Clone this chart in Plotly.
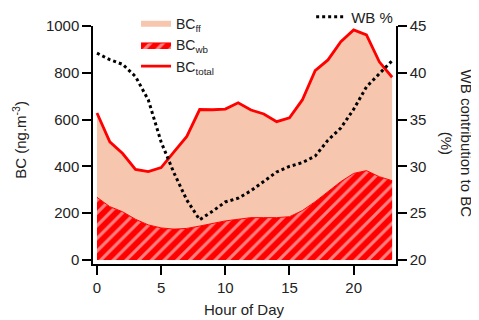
import plotly.graph_objects as go

hours = list(range(24))
bc_total = [628, 505, 455, 387, 378, 395, 462, 528, 643, 642, 645, 672, 641, 624, 591, 608,
            684, 809, 855, 933, 983, 962, 847, 781]
bc_wb = [268, 228, 206, 174, 150, 137, 132, 135, 145, 157, 167, 174, 181, 181, 181, 185,
         211, 249, 292, 335, 370, 382, 356, 339]
wb_pct = [42.1, 41.4, 40.9, 39.6, 37.1, 32.6, 29.3, 26.4, 24.3, 25.2, 26.2, 26.6, 27.4, 28.4,
          29.4, 30.0, 30.4, 31.1, 32.8, 34.1, 36.1, 38.5, 39.9, 41.3]
x_ticks = [0, 5, 10, 15, 20]
y_ticks = [0, 200, 400, 600, 800, 1000]
y2_ticks = [20, 25, 30, 35, 40, 45]

RED = "#ff0000"
FF = "#f7c6ae"
FONT = "Liberation Sans"

fig = go.Figure()

fig.add_trace(go.Scatter(
    x=hours, y=bc_wb, name="BC<sub>wb</sub>", mode="lines",
    line=dict(color=RED, width=1), fill="tozeroy", fillcolor=RED,
    fillpattern=dict(shape="/", fgcolor="white", bgcolor=RED, size=9, solidity=0.35),
    legendrank=2, legend="legend"))

fig.add_trace(go.Scatter(
    x=hours, y=bc_total, name="BC<sub>ff</sub>", mode="none",
    fill="tonexty", fillcolor=FF, legendrank=1, legend="legend"))

fig.add_trace(go.Scatter(
    x=hours, y=bc_total, name="BC<sub>total</sub>", mode="lines",
    line=dict(color=RED, width=2.8), legendrank=3, legend="legend"))

fig.add_trace(go.Scatter(
    x=hours, y=wb_pct, name="WB %", mode="lines", yaxis="y2",
    line=dict(color="black", width=3, dash="3px,3px"), legend="legend2"))

axis_common = dict(showline=True, linecolor="black", linewidth=1.5, ticks="outside",
                   ticklen=9, tickwidth=1.5, tickcolor="black", showgrid=False,
                   zeroline=False, tickfont=dict(size=15, color="#222", family=FONT))

fig.update_layout(
    width=471, height=312,
    margin=dict(l=85, r=83, t=18, b=56, autoexpand=False),
    paper_bgcolor="white", plot_bgcolor="white",
    font=dict(family=FONT, size=15, color="#222"),
    xaxis=dict(range=[-0.31, 23.3], tickvals=x_ticks, **axis_common),
    yaxis=dict(range=[-17.1, 1000], tickvals=y_ticks, **axis_common),
    yaxis2=dict(range=[19.57, 45], tickvals=y2_ticks, overlaying="y", side="right",
                **axis_common),
    legend=dict(x=0.142, y=1.075, xanchor="left", yanchor="top", bgcolor="rgba(0,0,0,0)",
                font=dict(size=14, family=FONT, color="#222"), tracegroupgap=0,
                traceorder="normal"),
    legend2=dict(x=0.72, y=1.107, xanchor="left", yanchor="top", bgcolor="rgba(0,0,0,0)",
                 font=dict(size=15, family=FONT, color="#222")),
    annotations=[
        dict(text="BC (ng.m<sup>-3</sup>)", xref="paper", yref="paper", x=-0.245, y=0.521,
             xanchor="center", yanchor="middle", textangle=-90, showarrow=False,
             font=dict(size=15, family=FONT, color="#222")),
        dict(text="Hour of Day", xref="paper", yref="paper", x=0.5, y=-0.193,
             xanchor="center", yanchor="middle", showarrow=False,
             font=dict(size=15, family=FONT, color="#222")),
        dict(text="WB contribution to BC<br>(%)", xref="paper", yref="paper", x=1.198,
             y=0.506, xanchor="center", yanchor="middle", textangle=90, showarrow=False,
             font=dict(size=15, family=FONT, color="#222")),
    ],
    showlegend=True,
)

fig.write_html("out.html")
